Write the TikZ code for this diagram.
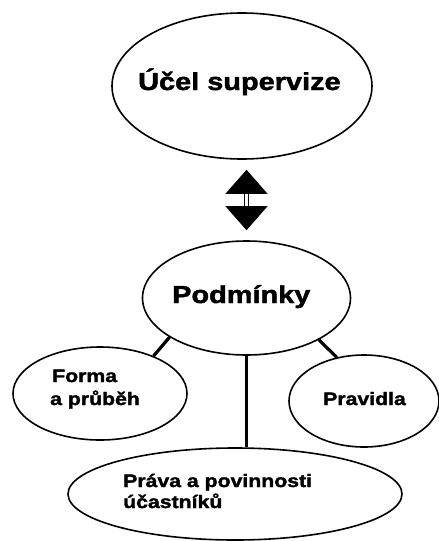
\documentclass[tikz,border=0pt]{standalone}
\usepackage{fontspec}
\setmainfont{Liberation Sans}[FakeStretch=1.18, BoldFeatures={FakeBold=1.8}]
\usetikzlibrary{shapes.geometric,arrows.meta}
\tikzset{
  oval/.style={draw, ellipse, line width=1.6pt, inner sep=0pt, minimum width=#1},
  lbl/.style={anchor=base west, inner sep=0pt, font=\bfseries\fontsize{18}{22}\selectfont},
  conn/.style={line width=3.2pt},
}
\begin{document}
\begin{tikzpicture}[x=1pt, y=-1pt]
\useasboundingbox (0,0) rectangle (439,541);
% ellipses
\node[oval=260pt, minimum height=146pt] (ucel) at (242,86) {};
\node[oval=208pt, minimum height=114pt] (pod) at (246.5,298) {};
\node[oval=174pt, minimum height=93pt] (forma) at (100,393.5) {};
\node[oval=150pt, minimum height=92pt] (prav) at (364,401) {};
\node[oval=334pt, minimum height=92pt] (bot) at (235,494) {};
% texts
\node[anchor=base west, inner sep=0pt, font=\bfseries\fontsize{24.5}{28}\selectfont] (tucel) at (138,90) {Účel supervize};
\node[anchor=base west, inner sep=0pt, font=\bfseries\fontsize{24.5}{28}\selectfont] (tpod) at (172,303) {Podmínky};
\node[lbl] (tforma1) at (52,382) {Forma};
\node[lbl] (tforma2) at (50,405) {a průběh};
\node[lbl] (tprav) at (323,405) {Pravidla};
\node[lbl] (tbot1) at (123,487) {Práva a povinnosti};
\node[lbl] (tbot2) at (123,508) {účastníků};
% double arrow
\draw[line width=1.1pt, double distance=2.4pt, shorten <=10pt, shorten >=10pt,
  {Triangle[width=42pt,length=24pt]}-{Triangle[width=42pt,length=24pt]}]
  (ucel.south -| pod.north) -- (pod.north);
% connectors
\draw[conn] (pod.207.3) -- (forma.35);
\draw[conn] (pod.330.8) -- (prav.122.5);
\draw[conn] (pod.south) -- (pod.south |- bot.north);
\end{tikzpicture}
\end{document}
